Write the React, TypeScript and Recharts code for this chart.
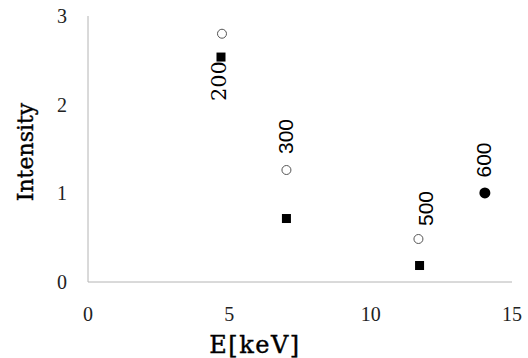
import React from "react";
import { ScatterChart, Scatter, XAxis, YAxis, Label } from "recharts";

// Open circles (one series)
const circleX = [4.74, 7.02, 11.69];
const circleY = [2.8, 1.263, 0.485];
// Filled squares (second series)
const squareX = [4.705, 7.02, 11.73];
const squareY = [2.537, 0.716, 0.186];
// Filled circle (600)
const dotX = [14.04];
const dotY = [1.004];
// Point labels
const labelText = ["200", "300", "500", "600"];
const labelX = [4.705, 7.02, 11.69, 14.04];
const labelY = [2.537, 1.263, 0.485, 1.004];

const xTicks = [0, 5, 10, 15];
const yTicks = [0, 1, 2, 3];

const circleData = circleX.map((x, i) => ({ x, y: circleY[i] }));
const squareData = squareX.map((x, i) => ({ x, y: squareY[i] }));
const dotData = dotX.map((x, i) => ({ x, y: dotY[i] }));
const labelData = labelText.map((t, i) => ({ x: labelX[i], y: labelY[i], t }));

// label styling / offsets (px)
const labelStyle: Record<string, { dx: number; dy: number; font: string; size: number }> = {
  "200": { dx: -1.5, dy: 24, font: "'DejaVu Serif', serif", size: 21 },
  "300": { dx: -1, dy: -33.5, font: "'Liberation Sans', Arial, sans-serif", size: 21 },
  "500": { dx: 7, dy: -30.5, font: "'Liberation Sans', Arial, sans-serif", size: 21 },
  "600": { dx: -1, dy: -33, font: "'Liberation Sans', Arial, sans-serif", size: 21 },
};

const serif = "'Liberation Serif', 'Times New Roman', serif";
const titleFont = "'DejaVu Serif', serif";
const axisColor = "#b4b4b4";

const OpenCircle = (p: any) => (
  <circle cx={p.cx} cy={p.cy} r={4.5} fill="#fff" stroke="#555" strokeWidth={1} />
);
const Square = (p: any) => (
  <rect x={p.cx - 4.5} y={p.cy - 4.5} width={9} height={9} fill="#000" />
);
const Dot = (p: any) => <circle cx={p.cx} cy={p.cy} r={5.5} fill="#000" />;
const TextMark = (p: any) => {
  const s = labelStyle[p.payload.t];
  const tx = p.cx + s.dx;
  const ty = p.cy + s.dy;
  return (
    <text
      x={tx}
      y={ty}
      transform={`rotate(-90 ${tx} ${ty})`}
      textAnchor="middle"
      dominantBaseline="central"
      fontFamily={s.font}
      fontSize={s.size}
      fill="#000"
    >
      {p.payload.t}
    </text>
  );
};

export default function App() {
  return (
    <div style={{ position: "absolute", left: 0, top: 0, background: "#fff" }}>
      <ScatterChart width={528} height={358} margin={{ top: 16, right: 16, bottom: 0, left: 0 }}>
        <XAxis
          type="number"
          dataKey="x"
          domain={[0, 15]}
          ticks={xTicks}
          height={76}
          tickLine={false}
          tickSize={0}
          tickMargin={25}
          axisLine={{ stroke: axisColor, strokeWidth: 1 }}
          tick={{ fontFamily: serif, fontSize: 20, fill: "#222" }}
        >
          <Label
            content={(props: any) => {
              const vb = props.viewBox;
              return (
                <text
                  x={vb.x + 167}
                  y={vb.y + 71}
                  textAnchor="middle"
                  fontFamily={titleFont}
                  fontSize={24}
                  letterSpacing={1.5}
                  stroke="#000"
                  strokeWidth={0.4}
                  fill="#000"
                >
                  E[keV]
                </text>
              );
            }}
          />
        </XAxis>
        <YAxis
          type="number"
          dataKey="y"
          domain={[0, 3]}
          ticks={yTicks}
          width={88}
          tickLine={false}
          tickSize={0}
          tickMargin={21}
          axisLine={{ stroke: axisColor, strokeWidth: 1 }}
          tick={{ fontFamily: serif, fontSize: 20, fill: "#222" }}
        >
          <Label
            content={(props: any) => {
              const vb = props.viewBox;
              const x = 33;
              const y = vb.y + 136;
              return (
                <text
                  x={x}
                  y={y}
                  transform={`rotate(-90 ${x} ${y})`}
                  textAnchor="middle"
                  fontFamily={titleFont}
                  fontSize={22}
                  stroke="#000"
                  strokeWidth={0.4}
                  fill="#000"
                >
                  Intensity
                </text>
              );
            }}
          />
        </YAxis>
        <Scatter data={circleData} shape={OpenCircle} isAnimationActive={false} />
        <Scatter data={squareData} shape={Square} isAnimationActive={false} />
        <Scatter data={dotData} shape={Dot} isAnimationActive={false} />
        <Scatter data={labelData} shape={TextMark} isAnimationActive={false} />
      </ScatterChart>
    </div>
  );
}
